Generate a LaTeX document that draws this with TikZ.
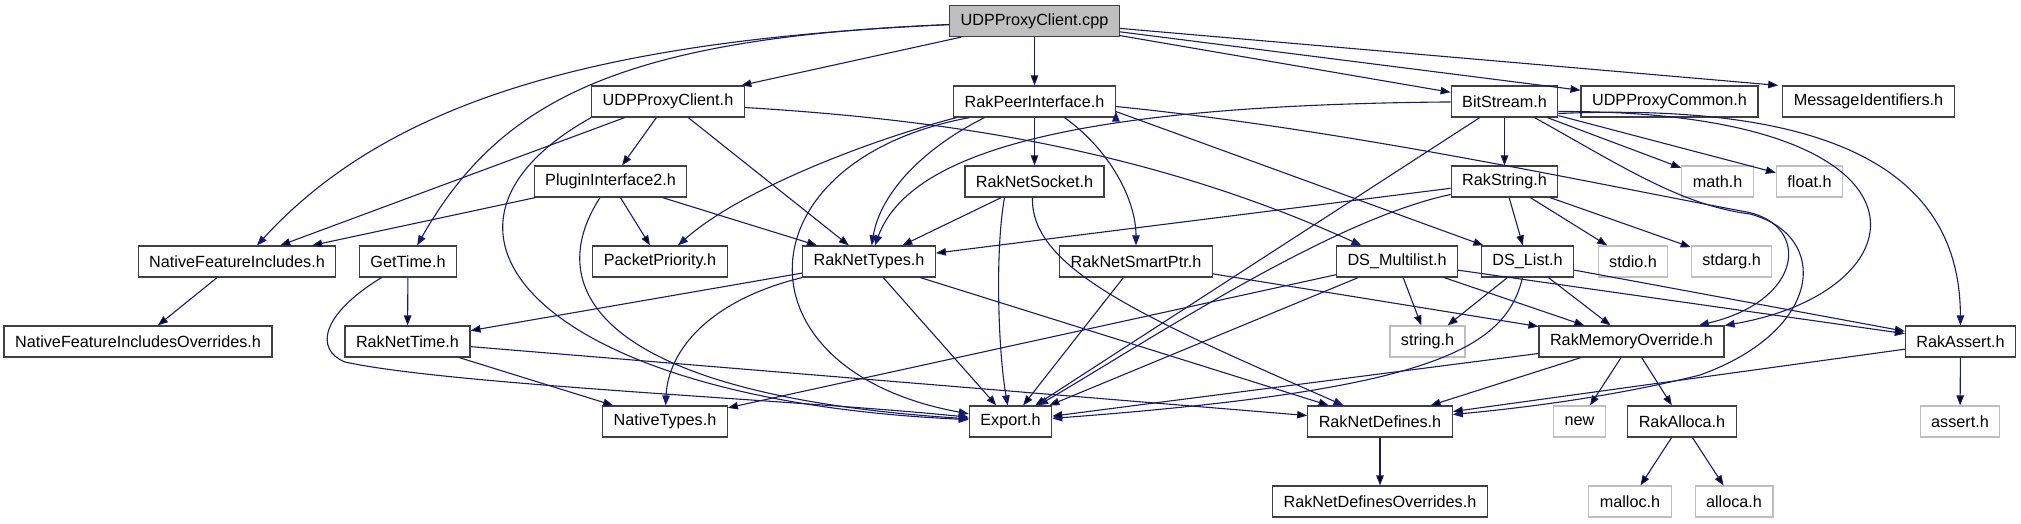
\documentclass[tikz,border=0pt]{standalone}
\usepackage{fontspec}
\setmainfont{Liberation Sans}
\usepackage{tikz}
\usetikzlibrary{arrows.meta}
\definecolor{incblue}{HTML}{191970}
\definecolor{boxgray}{HTML}{BFBFBF}
\newcommand{\incfont}{\fontsize{16.2}{19}\selectfont}
\tikzset{
    hdr/.style={draw=black!75, line width=1.2pt, minimum height=31pt, inner xsep=11pt, inner ysep=0pt, font=\incfont},
    syshdr/.style={hdr, draw=boxgray},
    srcfile/.style={hdr, fill=boxgray},
    inc/.style={draw=incblue, line width=1.1pt, -{Triangle[length=10pt,width=7.5pt]}},
}

\begin{document}
\begin{tikzpicture}[x=1pt,y=-1pt]
    \useasboundingbox (0,0) rectangle (2021,523);
    % files
    \node[srcfile] (cpp) at (1034.5,21) {UDPProxyClient.cpp};
    \node[hdr] (udph) at (668,101.5) {UDPProxyClient.h};
    \node[hdr] (peer) at (1034.5,101.5) {RakPeerInterface.h};
    \node[hdr] (bits) at (1504.5,101.5) {BitStream.h};
    \node[hdr] (common) at (1669.5,101.5) {UDPProxyCommon.h};
    \node[hdr] (msgid) at (1868.5,101.5) {MessageIdentifiers.h};
    \node[hdr] (plugin) at (610.5,181.5) {PluginInterface2.h};
    \node[hdr] (socket) at (1034.5,181.5) {RakNetSocket.h};
    \node[hdr] (rstr) at (1504.5,181.5) {RakString.h};
    \node[syshdr] (math) at (1717.5,181.5) {math.h};
    \node[syshdr] (float) at (1809.5,181.5) {float.h};
    \node[hdr] (nfi) at (237,261.5) {NativeFeatureIncludes.h};
    \node[hdr] (gettime) at (408,261.5) {GetTime.h};
    \node[hdr] (prio) at (660,261.5) {PacketPriority.h};
    \node[hdr] (types) at (869,261.5) {RakNetTypes.h};
    \node[hdr] (smartptr) at (1136,261.5) {RakNetSmartPtr.h};
    \node[hdr] (multilist) at (1397,261.5) {DS\_Multilist.h};
    \node[hdr] (dslist) at (1527.5,261.5) {DS\_List.h};
    \node[syshdr] (stdio) at (1633,261.5) {stdio.h};
    \node[syshdr] (stdarg) at (1731.5,261.5) {stdarg.h};
    \node[hdr] (nfio) at (138,341.5) {NativeFeatureIncludesOverrides.h};
    \node[hdr] (time) at (407.5,341.5) {RakNetTime.h};
    \node[syshdr] (string) at (1427.5,341.5) {string.h};
    \node[hdr] (memover) at (1631.5,341.5) {RakMemoryOverride.h};
    \node[hdr] (assert) at (1960.5,341.5) {RakAssert.h};
    \node[hdr] (ntypes) at (665,421.5) {NativeTypes.h};
    \node[hdr] (export) at (1010.5,421.5) {Export.h};
    \node[hdr] (defines) at (1380,421.5) {RakNetDefines.h};
    \node[syshdr] (new) at (1579.5,421.5) {new};
    \node[hdr] (alloca) at (1682,421.5) {RakAlloca.h};
    \node[syshdr] (asserth) at (1960,421.5) {assert.h};
    \node[hdr] (defover) at (1380,501.5) {RakNetDefinesOverrides.h};
    \node[syshdr] (malloc) at (1630,501.5) {malloc.h};
    \node[syshdr] (allocah) at (1734,501.5) {alloca.h};

    % UDPProxyClient.cpp
    \path[inc]
        (cpp) edge (udph)
        (cpp) edge (peer)
        (cpp) edge (bits)
        (cpp) edge (common)
        (cpp) edge ([xshift=-4pt]msgid.north west);
    \draw[inc] (cpp) .. controls (600,40) and (390,100) .. ([xshift=20pt]nfi.north);
    \draw[inc] (cpp) .. controls (620,38) and (500,100) .. (gettime);

    % UDPProxyClient.h
    \path[inc]
        (udph) edge (nfi)
        (udph) edge (plugin)
        (udph) edge (types);
    \draw[inc] ([yshift=-6pt]udph.east) .. controls (950,120) and (1150,150) .. (multilist);
    \draw[inc] (udph.south west) .. controls (390,230) and (540,400) .. (export);

    % PluginInterface2.h
    \path[inc]
        (plugin) edge (nfi)
        (plugin) edge (prio)
        (plugin) edge (types);
    \draw[inc] (plugin) .. controls (540,290) and (600,395) .. (export);

    % RakPeerInterface.h
    \path[inc]
        (peer) edge (socket)
        ([yshift=-10pt]peer.east) edge (dslist);
    \draw[inc] ([xshift=-78pt]peer.south) .. controls (870,140) and (740,190) .. (prio);
    \draw[inc] ([xshift=-65pt]peer.south) .. controls (740,160) and (730,370) .. (export);
    \draw[inc] ([xshift=-50pt]peer.south) .. controls (920,150) and (880,195) .. (types);
    \draw[inc] ([xshift=30pt]peer.south) .. controls (1110,150) and (1136,200) .. (smartptr);
    \draw[inc] ([yshift=-5pt]peer.east) .. controls (1350,130) and (1600,185) .. (1747,212)
        .. controls (1810,225) and (1805,300) .. (memover);

    % BitStream.h
    \path[inc]
        (bits) edge (rstr)
        (bits) edge (export)
        (bits) edge (math)
        (bits) edge (float);
    \draw[inc] (bits) .. controls (1080,105) and (910,150) .. (types);
    \draw[inc] ([yshift=-10pt]bits.east) .. controls (1950,110) and (1930,290) .. (memover);
    \draw[inc] ([yshift=-12pt]bits.east) .. controls (1880,100) and (1960,200) .. (assert);
    \draw[inc] ([xshift=30pt]bits.south) .. controls (1620,165) and (1680,205) .. (1750,214)
        .. controls (1830,235) and (1825,330) .. (1700,375)
        .. controls (1600,400) and (1500,410) .. (defines);

    % RakString.h
    \path[inc]
        (rstr) edge (types)
        (rstr) edge (dslist)
        (rstr) edge (stdio)
        (rstr) edge (stdarg);
    \draw[inc] ([yshift=-13pt]rstr.west) .. controls (1330,220) and (1150,340) .. (export);

    % RakNetSocket.h
    \path[inc] (socket) edge (types);
    \draw[inc] ([xshift=-30pt]socket.south) .. controls (995,250) and (998,350) .. (export);
    \draw[inc] ([xshift=-2pt]socket.south) .. controls (1030,270) and (1150,320) .. (defines);

    \path[inc]
        (smartptr) edge (export)
        (smartptr) edge (memover)
        (types) edge (time)
        (types) edge (export)
        (types) edge (defines)
        (gettime) edge (time)
        (time) edge (ntypes)
        (time) edge (defines)
        (nfi) edge (nfio);
    \draw[inc] (types.south west) .. controls (710,300) and (668,350) .. (ntypes);
    \draw[inc] (gettime) .. controls (320,315) and (315,350) .. (345,362)
        .. controls (450,385) and (800,400) .. (export);

    % DS_Multilist.h, DS_List.h
    \path[inc]
        (multilist) edge (ntypes)
        (multilist) edge (export)
        (multilist) edge (string)
        (multilist) edge (memover)
        (multilist) edge (assert)
        (dslist) edge (string)
        (dslist) edge (memover)
        (dslist) edge (assert);
    \draw[inc] ([xshift=-5pt]dslist.south) .. controls (1505,350) and (1430,390) .. (export);

    % RakMemoryOverride.h and below
    \path[inc]
        (memover) edge (export)
        (memover) edge (defines)
        (memover) edge (new)
        (memover) edge (alloca)
        (alloca) edge (malloc)
        (alloca) edge (allocah)
        (defines) edge (defover)
        (assert) edge (asserth)
        (assert) edge (defines);
\end{tikzpicture}
\end{document}
